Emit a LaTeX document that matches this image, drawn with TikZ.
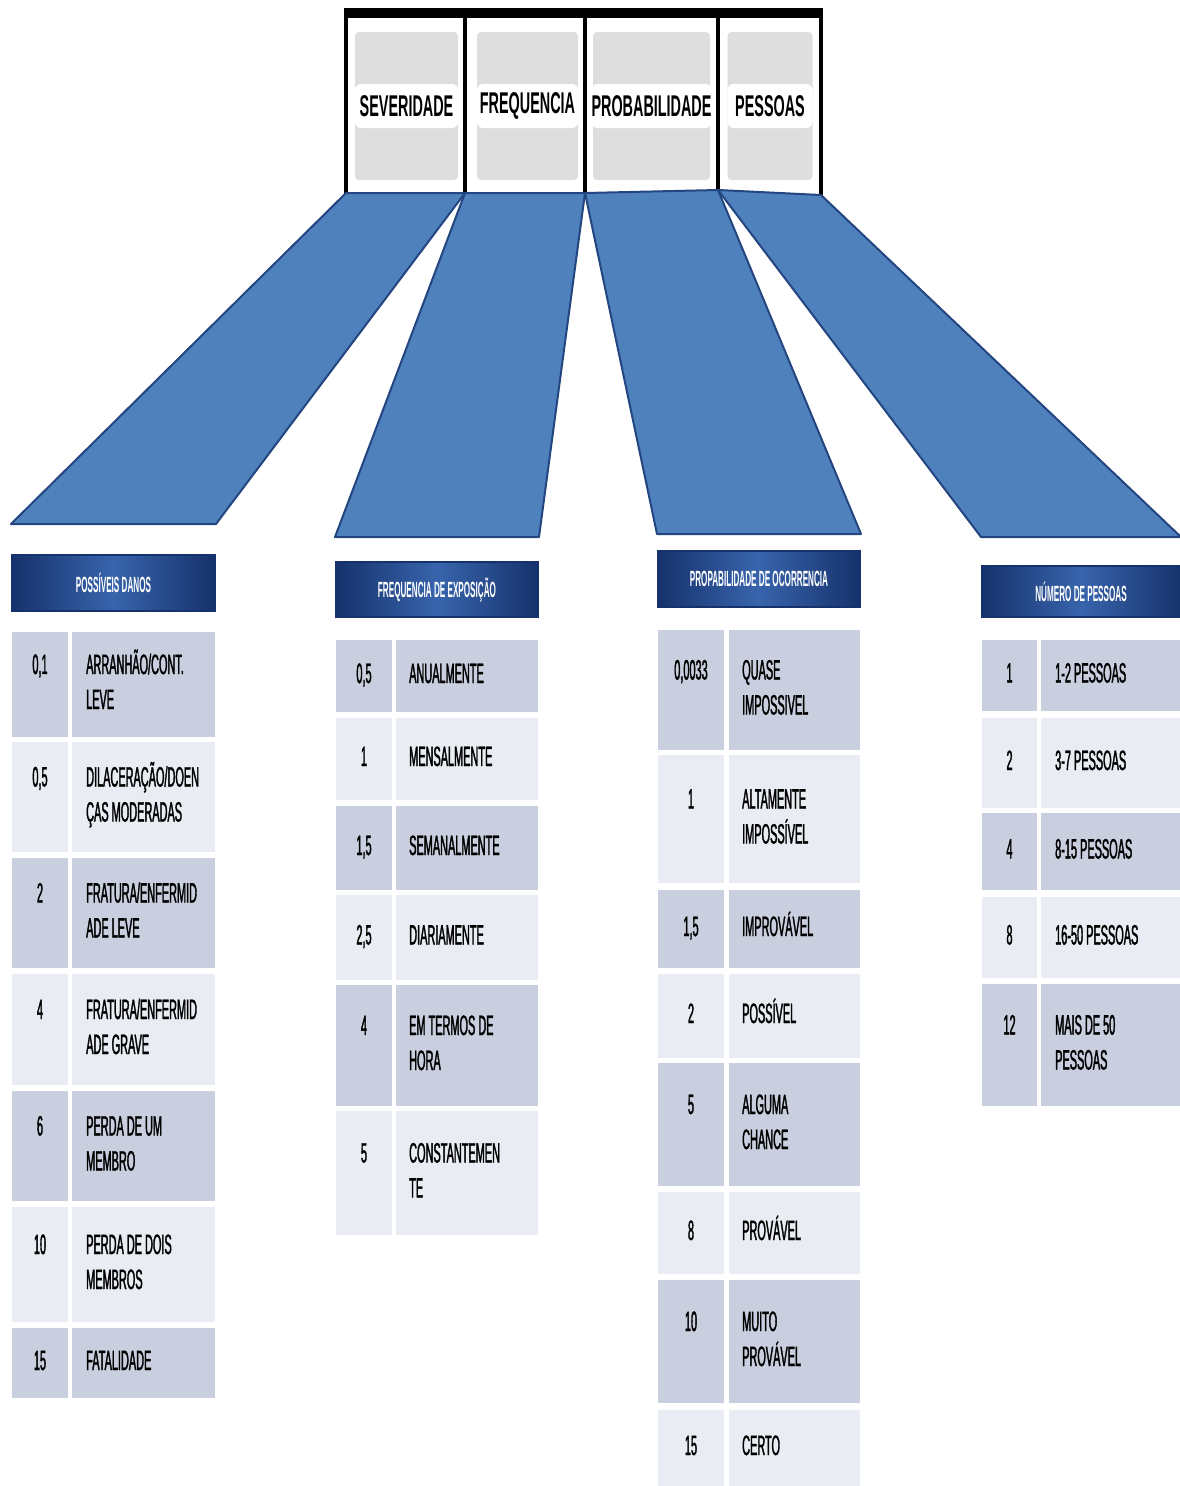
\documentclass[tikz,border=0pt]{standalone}
\usepackage{fontspec}
\setmainfont{Liberation Sans}
\newfontfamily\rotfont[FakeStretch=0.48]{Liberation Sans}
\newfontfamily\linfont[FakeStretch=0.39, FakeBold=1.3]{Liberation Sans}
\newfontfamily\cabfont[FakeStretch=0.37]{Liberation Sans}

\definecolor{azulfunil}{RGB}{79,129,189}
\definecolor{azulborda}{RGB}{36,70,128}
\definecolor{azulcab}{RGB}{56,100,172}
\definecolor{azulcabesc}{RGB}{22,50,108}
\definecolor{linhaA}{RGB}{201,207,222}
\definecolor{linhaB}{RGB}{233,236,242}
\definecolor{cinzacaixa}{RGB}{222,222,222}

\tikzset{
  funil/.style={fill=azulfunil, draw=azulborda, line width=2pt, line join=round},
  moldura/.style={line width=4pt, black},
  caixa/.style={fill=cinzacaixa, rounded corners=4pt, minimum height=148pt, inner sep=0pt},
  rotulo/.style={fill=white, rounded corners=6pt, minimum height=44pt, inner sep=0pt,
    font=\rotfont\bfseries\fontsize{30}{36}\selectfont},
  cabec/.style={left color=azulcabesc, right color=azulcabesc, middle color=azulcab,
    draw=azulcabesc, line width=2pt, inner sep=0pt, text=white,
    font=\cabfont\bfseries\fontsize{22}{26}\selectfont},
  texto/.style={anchor=west, align=left, inner sep=0pt, font=\linfont\fontsize{28}{35}\selectfont},
  numero/.style={anchor=north, inner sep=0pt, font=\linfont\fontsize{28}{35}\selectfont}
}

\begin{document}
\begin{tikzpicture}[x=1pt, y=-1pt]
\useasboundingbox (0,0) rectangle (1180,1486);

% Quadro superior
\fill (346,8) rectangle (823,18);
\foreach \x in {346,465,585,718,821}
	\draw[moldura] (\x,8) -- (\x,197);

\node[caixa, minimum width=103pt] (sev) at (406.5,106) {};
\node[caixa, minimum width=101pt] (freq) at (527.5,106) {};
\node[caixa, minimum width=117pt] (prob) at (651.5,106) {};
\node[caixa, minimum width=85pt] (pes) at (770,106) {};

\node[rotulo, minimum width=103pt] (sevr) at (sev) {SEVERIDADE};
\node[rotulo, minimum width=101pt] (freqr) at (freq) {FREQUENCIA};
\node[rotulo, minimum width=117pt] (probr) at (prob) {PROBABILIDADE};
\node[rotulo, minimum width=85pt] (pesr) at (pes) {PESSOAS};

\coordinate (c0) at (346,193);
\coordinate (c1) at (465,193);
\coordinate (c2) at (585,193);
\coordinate (c3) at (718,190);
\coordinate (c4) at (821,195);

% Cabecalhos das tabelas
\node[cabec, minimum width=203pt, minimum height=56pt] (hsev) at (113.5,583) {POSSÍVEIS DANOS};
\node[cabec, minimum width=202pt, minimum height=55pt] (hfreq) at (437,589.5) {FREQUENCIA DE EXPOSIÇÃO};
\node[cabec, minimum width=202pt, minimum height=56pt] (hprob) at (759,579) {PROPABILIDADE DE OCORRENCIA};
\node[cabec, minimum width=198pt, minimum height=51pt] (hpes) at (1081,591.5) {NÚMERO DE PESSOAS};

% Funis
\foreach \a/\b/\h/\d in {c0/c1/hsev/30, c1/c2/hfreq/24, c2/c3/hprob/16, c3/c4/hpes/28}
	\draw[funil] (\a) -- (\b) -- ([yshift=\d pt]\h.north east) -- ([yshift=\d pt]\h.north west) -- cycle;

% Tabela de severidade
\foreach \a/\b/\n/\t/\c [count=\i] in {
	632/737/{0,1}/{ARRANHÃO/CONT.\\LEVE}/linhaA,
	742/852/{0,5}/{DILACERAÇÃO/DOEN\\ÇAS MODERADAS}/linhaB,
	858/968/2/{FRATURA/ENFERMID\\ADE LEVE}/linhaA,
	974/1085/4/{FRATURA/ENFERMID\\ADE GRAVE}/linhaB,
	1091/1201/6/{PERDA DE UM\\MEMBRO}/linhaA,
	1207/1322/10/{PERDA DE DOIS\\MEMBROS}/linhaB,
	1328/1398/15/FATALIDADE/linhaA}
{
	\fill[\c] (12,\a) rectangle (68,\b);
	\fill[\c] (72,\a) rectangle (215,\b);
	\node[texto] (sevt\i) at (86,{(\a+\b)/2}) {\strut\t\strut};
	\node[numero] (sevn\i) at ([xshift=-46pt]sevt\i.north west) {\strut\n};
}

% Tabela de frequencia
\foreach \a/\b/\n/\t/\c [count=\i] in {
	640/712/{0,5}/ANUALMENTE/linhaA,
	718/800/1/MENSALMENTE/linhaB,
	806/890/{1,5}/SEMANALMENTE/linhaA,
	895/980/{2,5}/DIARIAMENTE/linhaB,
	985/1106/4/{EM TERMOS DE\\HORA}/linhaA,
	1111/1235/5/{CONSTANTEMEN\\TE}/linhaB}
{
	\fill[\c] (336,\a) rectangle (392,\b);
	\fill[\c] (396,\a) rectangle (538,\b);
	\node[texto] (freqt\i) at (409,{(\a+\b)/2}) {\strut\t\strut};
	\node[numero] (freqn\i) at ([xshift=-45pt]freqt\i.north west) {\strut\n};
}

% Tabela de probabilidade
\foreach \a/\b/\n/\t/\c [count=\i] in {
	630/750/{0,0033}/{QUASE\\IMPOSSIVEL}/linhaA,
	755/883/1/{ALTAMENTE\\IMPOSSÍVEL}/linhaB,
	890/968/{1,5}/IMPROVÁVEL/linhaA,
	974/1058/2/POSSÍVEL/linhaB,
	1063/1186/5/{ALGUMA\\CHANCE}/linhaA,
	1192/1274/8/PROVÁVEL/linhaB,
	1280/1403/10/{MUITO\\PROVÁVEL}/linhaA,
	1410/1486/15/CERTO/linhaB}
{
	\fill[\c] (658,\a) rectangle (724,\b);
	\fill[\c] (729,\a) rectangle (860,\b);
	\node[texto] (probt\i) at (742,{(\a+\b)/2}) {\strut\t\strut};
	\node[numero] (probn\i) at ([xshift=-51pt]probt\i.north west) {\strut\n};
}

% Tabela de pessoas
\foreach \a/\b/\n/\t/\c [count=\i] in {
	640/711/1/1-2 PESSOAS/linhaA,
	718/808/2/3-7 PESSOAS/linhaB,
	813/890/4/8-15 PESSOAS/linhaA,
	897/978/8/16-50 PESSOAS/linhaB,
	984/1106/12/{MAIS DE 50\\PESSOAS}/linhaA}
{
	\fill[\c] (982,\a) rectangle (1037,\b);
	\fill[\c] (1041,\a) rectangle (1180,\b);
	\node[texto] (pest\i) at (1055,{(\a+\b)/2}) {\strut\t\strut};
	\node[numero] (pesn\i) at ([xshift=-45.5pt]pest\i.north west) {\strut\n};
}
\end{tikzpicture}
\end{document}
